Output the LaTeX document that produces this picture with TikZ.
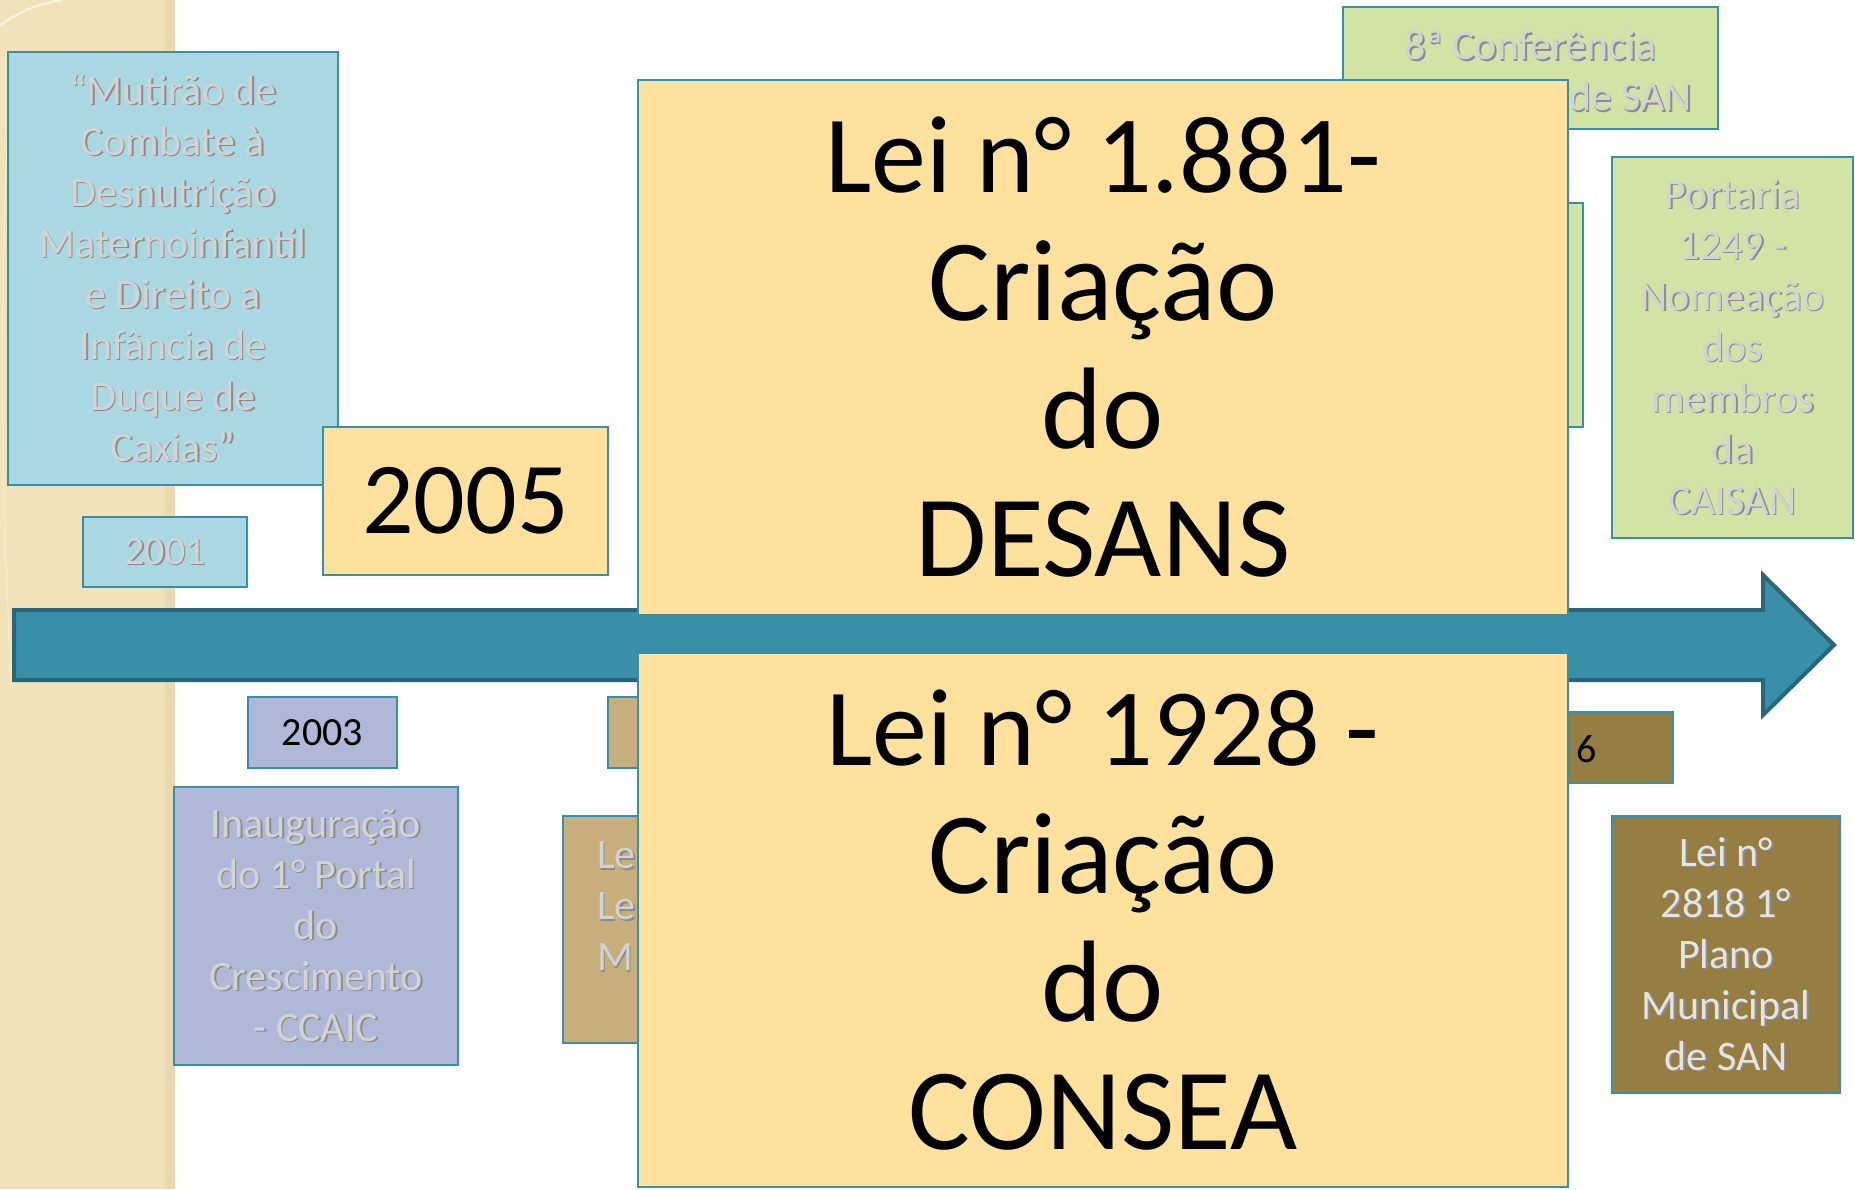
\documentclass[tikz,border=0pt]{standalone}
\usepackage{fontspec}
\setmainfont{Carlito}
\definecolor{tealb}{HTML}{3A8FA8}
\definecolor{tealdark}{HTML}{2A6679}
\definecolor{lblue}{HTML}{A9D7E2}
\definecolor{yel}{HTML}{FDE19C}
\definecolor{grn}{HTML}{D1E3A5}
\definecolor{lav}{HTML}{AFB8D6}
\definecolor{tanc}{HTML}{C6AF7C}
\definecolor{olivec}{HTML}{967D42}
\definecolor{beige}{HTML}{F2E2B9}
\definecolor{greyt}{HTML}{D3D3D3}
\definecolor{greyl}{HTML}{E4E4E4}
\definecolor{shadowc}{HTML}{8C8C8C}
\newcommand\shl[1]{\leavevmode\rlap{\kern1.6pt\raisebox{-1.6pt}{\color{shadowc}#1}}#1}
\newcommand\firstline[1]{{\fontsize{110}{128}\selectfont #1}}
\begin{document}
\begin{tikzpicture}[x=1pt,y=-1pt,
  box/.style={draw=tealb, line width=2.5pt, inner sep=0pt, align=center, anchor=center},
  greytxt/.style={text=greyt, font=\fontsize{42}{51}\selectfont},
  bigtxt/.style={text=black, font=\fontsize{116}{128}\selectfont},
  yeartxt/.style={text=black, font=\fontsize{40}{48}\selectfont},
  timeline/.style={fill=tealb, draw=tealdark, line width=4pt, line join=miter}
]
\useasboundingbox (0,0) rectangle (1855,1189);
\fill[white] (0,0) rectangle (1855,1189);
\fill[beige] (0,0) rectangle (175,1189);
\fill[black, opacity=0.04] (165,0) rectangle (175,1189);
\draw[white, opacity=0.6, line width=2pt] (0,26) .. controls (20,10) and (40,4) .. (62,0);
\draw[white, opacity=0.3, line width=1.5pt] (8,120) .. controls (0,300) and (0,480) .. (12,690);

% upper row
\node[box, fill=lblue, greytxt, minimum width=330pt, minimum height=433pt] (mut) at (173,268.5)
  {\shl{“Mutirão de}\\\shl{Combate à}\\\shl{Desnutrição}\\\shl{Maternoinfantil}\\\shl{e Direito a}\\\shl{Infância de}\\\shl{Duque de}\\\shl{Caxias”}};
\node[box, fill=lblue, greytxt, font=\fontsize{40}{48}\selectfont, minimum width=164pt, minimum height=70pt] (y2001) at (165,552) {\shl{2001}};
\node[box, fill=yel, text=black, font=\fontsize{102}{110}\selectfont, minimum width=285pt, minimum height=148pt] (y2005) at (465.5,501) {2005};
\node[box, fill=grn, greytxt, minimum width=375pt, minimum height=122pt, text depth=0pt] (conf) at (1530.5,68)
  {\raisebox{-5pt}{\shl{8ª Conferência}}\\\kern22pt\raisebox{-5pt}{\shl{Municipal de SAN}}};
\node[box, fill=grn, minimum width=283pt, minimum height=224pt] (hidg) at (1441.5,315) {};
\node[box, fill=grn, greytxt, minimum width=241pt, minimum height=381pt] (port) at (1732.5,347.5)
  {\shl{Portaria}\\\shl{1249 -}\\\shl{Nomeação}\\\shl{dos}\\\shl{membros}\\\shl{da}\\\shl{CAISAN}};

% lower row
\node[box, fill=lav, yeartxt, minimum width=149pt, minimum height=71pt] (y2003) at (322.5,732.5) {2003};
\node[box, fill=lav, greytxt, minimum width=284pt, minimum height=278pt] (inaug) at (316,926)
  {\shl{Inauguração}\\\shl{do 1° Portal}\\\shl{do}\\\shl{Crescimento}\\\shl{- CCAIC}};
\node[box, fill=tanc, minimum width=152pt, minimum height=71pt] (tany) at (684,732.5) {};
\node[box, fill=tanc, minimum width=237pt, minimum height=227pt] (tant) at (681.5,929.5) {};
\node[greytxt, anchor=west, align=left, inner sep=0pt] (tantx) at (597,907) {\shl{Le}\\\shl{Le}\\\shl{M}};
\node[box, fill=olivec, minimum width=233pt, minimum height=71pt] (oly) at (1556.5,747.5) {};
\node[yeartxt, anchor=west, inner sep=0pt] (olyt) at (1576,749) {6};
\node[box, fill=olivec, text=greyl, font=\fontsize{42}{51}\selectfont, minimum width=228pt, minimum height=277pt] (lei2818) at (1726,954.5)
  {\shl{Lei n°}\\\shl{2818 1°}\\\shl{Plano}\\\shl{Municipal}\\\shl{de SAN}};

% timeline arrow
\draw[timeline] (14,610) -- (1763,610) -- (1763,575) -- (1834,645) -- (1763,715) -- (1763,680) -- (14,680) -- cycle;

% big overlays
\node[box, fill=yel, bigtxt, minimum width=930pt, minimum height=535pt] (desans) at (1103,347.5)
  {\firstline{Lei n° 1.881-}\\Criação\\do\\DESANS};
\node[box, fill=yel, bigtxt, minimum width=930pt, minimum height=534pt] (consea) at (1103,920)
  {\firstline{Lei n° 1928 -}\\Criação\\do\\CONSEA};
\end{tikzpicture}
\end{document}
